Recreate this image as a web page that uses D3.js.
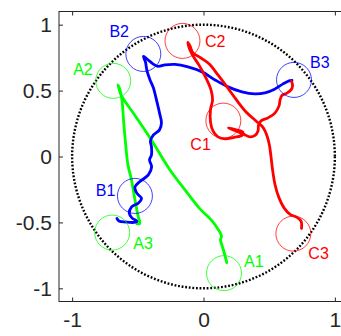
<!DOCTYPE html>
<html>
<head>
<meta charset="utf-8">
<script src="https://cdn.jsdelivr.net/npm/d3@7"></script>
<style>
  html, body { margin: 0; padding: 0; background: #fff; }
  svg { display: block; font-family: "Liberation Sans", Arial, Helvetica, sans-serif; }
</style>
</head>
<body>
<div id="chart"></div>
<script>
// trajectories A (green), B (blue), C (red)
const pathA = [
  [0.177, -0.805], [0.156, -0.724], [0.137, -0.663], [0.129, -0.633], [0.137, -0.602],
  [0.114, -0.557], [0.065, -0.488], [-0.027, -0.397], [-0.141, -0.253], [-0.255, -0.102],
  [-0.392, 0.118], [-0.514, 0.300], [-0.628, 0.467], [-0.647, 0.528], [-0.651, 0.543],
  [-0.636, 0.506], [-0.621, 0.430], [-0.606, 0.240], [-0.590, 0.065], [-0.575, -0.064],
  [-0.548, -0.178], [-0.522, -0.329], [-0.497, -0.456], [-0.484, -0.508], [-0.506, -0.511]
];
const pathB = [
  [-0.659, -0.470], [-0.644, -0.489], [-0.591, -0.497], [-0.530, -0.500], [-0.506, -0.492],
  [-0.545, -0.466], [-0.565, -0.430], [-0.547, -0.382], [-0.497, -0.354], [-0.472, -0.318],
  [-0.506, -0.280], [-0.522, -0.231], [-0.484, -0.190], [-0.420, -0.140], [-0.395, -0.079],
  [-0.411, -0.026], [-0.396, 0.012], [-0.396, 0.073], [-0.404, 0.118], [-0.381, 0.164],
  [-0.335, 0.202], [-0.320, 0.255], [-0.335, 0.331], [-0.358, 0.429], [-0.381, 0.520],
  [-0.407, 0.581], [-0.430, 0.649], [-0.442, 0.718], [-0.457, 0.759], [-0.423, 0.734],
  [-0.385, 0.703], [-0.347, 0.684], [-0.293, 0.695], [-0.217, 0.699], [-0.118, 0.680],
  [-0.011, 0.642], [0.088, 0.581], [0.187, 0.528], [0.293, 0.490], [0.392, 0.475],
  [0.468, 0.483], [0.537, 0.509], [0.606, 0.551], [0.651, 0.574], [0.674, 0.578]
];
const pathC = [
  [0.670, 0.570], [0.678, 0.536], [0.666, 0.505], [0.632, 0.479], [0.598, 0.464],
  [0.583, 0.429], [0.575, 0.384], [0.545, 0.331], [0.491, 0.293], [0.438, 0.270],
  [0.419, 0.240], [0.415, 0.194], [0.392, 0.160], [0.354, 0.149], [0.308, 0.168],
  [0.248, 0.194], [0.190, 0.217], [0.248, 0.202], [0.301, 0.183], [0.293, 0.160],
  [0.232, 0.145], [0.164, 0.134], [0.110, 0.149], [0.072, 0.194], [0.053, 0.263],
  [0.053, 0.354], [0.069, 0.429], [0.057, 0.505], [0.019, 0.595], [-0.034, 0.693],
  [-0.088, 0.776], [-0.114, 0.839], [-0.118, 0.866], [-0.103, 0.839], [-0.080, 0.786],
  [-0.027, 0.752], [0.042, 0.703], [0.110, 0.619], [0.179, 0.528], [0.251, 0.429],
  [0.324, 0.338], [0.400, 0.270], [0.453, 0.221], [0.484, 0.156], [0.503, 0.080],
  [0.514, -0.003], [0.526, -0.102], [0.545, -0.216], [0.575, -0.314], [0.613, -0.390],
  [0.659, -0.439], [0.712, -0.462], [0.743, -0.492], [0.746, -0.546]
];

// target circles and their labels
const targetNames = ['A1', 'A2', 'A3', 'B1', 'B2', 'B3', 'C1', 'C2', 'C3'];
const targetX = [0.156, -0.687, -0.695, -0.522, -0.458, 0.689, 0.151, -0.160, 0.684];
const targetY = [-0.885, 0.574, -0.577, -0.299, 0.778, 0.581, 0.272, 0.877, -0.585];
const targetR = 0.133;
const labelX = [0.308, -0.992, -0.535, -0.820, -0.716, 0.811, -0.100, 0.011, 0.798];
const labelY = [-0.838, 0.619, -0.703, -0.299, 0.905, 0.670, 0.050, 0.834, -0.775];
const guideR = 1;

const xTicks = [-1, 0, 1];
const yTicks = [-1, -0.5, 0, 0.5, 1];
const xTickLabels = ['-1', '0', '1'];
const yTickLabels = ['-1', '-0.5', '0', '0.5', '1'];

const W = 341, H = 336;
const colors = { A: '#00ff00', B: '#0000ff', C: '#ff0000' };

const x = d3.scaleLinear().domain([-1.1, 1.1]).range([59, 348]);
const y = d3.scaleLinear().domain([-1.1, 1.1]).range([301.5, 11.5]);

const svg = d3.select('#chart').append('svg')
  .attr('width', W).attr('height', H);

// axes box
svg.append('rect')
  .attr('x', x(-1.1)).attr('y', y(1.1))
  .attr('width', x(1.1) - x(-1.1)).attr('height', y(-1.1) - y(1.1))
  .attr('fill', 'none').attr('stroke', '#262626').attr('stroke-width', 1);

const ax = (g) => {
  g.selectAll('.domain').remove();
  g.selectAll('line').attr('stroke', '#262626');
  g.selectAll('text').attr('fill', '#262626').attr('font-size', 21);
};

svg.append('g')
  .attr('transform', `translate(0,${y(-1.1)})`)
  .call(d3.axisBottom(x).tickValues(xTicks).tickFormat((d, i) => xTickLabels[i])
    .tickSizeInner(-4).tickSizeOuter(0).tickPadding(11))
  .call(ax);
svg.append('g')
  .attr('transform', `translate(0,${y(1.1)})`)
  .call(d3.axisTop(x).tickValues(xTicks).tickFormat('').tickSizeInner(-4).tickSizeOuter(0))
  .call(ax);
svg.append('g')
  .attr('transform', `translate(${x(-1.1)},0)`)
  .call(d3.axisLeft(y).tickValues(yTicks).tickFormat((d, i) => yTickLabels[i])
    .tickSizeInner(-4).tickSizeOuter(0).tickPadding(7))
  .call(ax);

// dotted unit circle
svg.append('ellipse')
  .attr('cx', x(0)).attr('cy', y(0))
  .attr('rx', x(guideR) - x(0)).attr('ry', y(0) - y(guideR))
  .attr('fill', 'none').attr('stroke', '#000')
  .attr('stroke-width', 2.4).attr('stroke-dasharray', '1.8,1.8');

const line = d3.line()
  .x(d => x(d[0])).y(d => y(d[1]))
  .curve(d3.curveCatmullRom.alpha(0.5));

[['A', pathA], ['B', pathB], ['C', pathC]].forEach(([k, pts]) => {
  svg.append('path')
    .attr('d', line(pts))
    .attr('fill', 'none')
    .attr('stroke', colors[k])
    .attr('stroke-width', 2.8)
    .attr('stroke-linejoin', 'round')
    .attr('stroke-linecap', 'round');
});

// target circles
targetNames.forEach((name, i) => {
  const c = colors[name[0]];
  svg.append('ellipse')
    .attr('cx', x(targetX[i])).attr('cy', y(targetY[i]))
    .attr('rx', x(targetR) - x(0)).attr('ry', y(0) - y(targetR))
    .attr('fill', 'none').attr('stroke', c)
    .attr('stroke-width', 1).attr('stroke-opacity', 0.75);
  svg.append('text')
    .attr('x', x(labelX[i])).attr('y', y(labelY[i]))
    .attr('fill', c).attr('font-size', 16)
    .text(name);
});
</script>
</body>
</html>
